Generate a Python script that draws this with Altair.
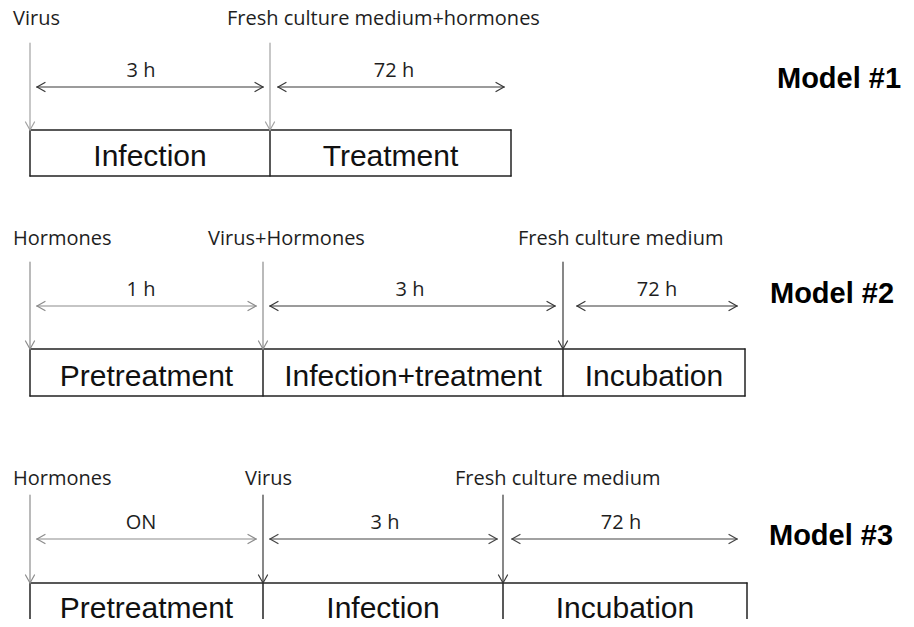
import altair as alt
import pandas as pd

# ---------------- data ----------------
model_names = ["Model #1", "Model #2", "Model #3"]
event_labels = [
    ["Virus", "Fresh culture medium+hormones"],
    ["Hormones", "Virus+Hormones", "Fresh culture medium"],
    ["Hormones", "Virus", "Fresh culture medium"],
]
durations = [
    ["3 h", "72 h"],
    ["1 h", "3 h", "72 h"],
    ["ON", "3 h", "72 h"],
]
phases = [
    ["Infection", "Treatment"],
    ["Pretreatment", "Infection+treatment", "Incubation"],
    ["Pretreatment", "Infection", "Incubation"],
]
# phase boundaries along each timeline (diagram units)
boundaries = [
    [30, 270, 511],
    [30, 263, 563, 745],
    [30, 263, 503, 747],
]
# duration-arrow extents along each timeline
span_start = [[37, 278], [37, 270, 577], [37, 270, 512]]
span_end = [[263, 504], [256, 555, 737], [256, 497, 737]]
# label anchors along each timeline
event_label_x = [[13, 227], [13, 208, 518], [13, 245, 455]]
duration_label_x = [[141, 394], [141, 410, 657], [141, 385, 621]]
model_label_x = [777, 770, 769]

# ---------------- layout (rows) ----------------
layout = dict(
    event_base=[25, 245, 485],
    arrow_top=[43, 262, 495],
    dur_base=[77, 296, 529],
    harrow_y=[87, 306, 539],
    box_top=[130, 349, 583],
    box_bottom=[176, 396, 650],
    box_base=[166, 386, 618],
    model_base=[88, 303, 545],
)
LIGHT = "#a2a2a2"
MID = "#8c8c8c"
DARK = "#383838"
style = dict(
    vcol=[[LIGHT, LIGHT], [MID, MID, DARK], [MID, DARK, DARK]],
    hcol=[[DARK, DARK], [MID, DARK, DARK], [MID, "#454545", "#454545"]],
    box="#222222",
)
HL, HW = 8, 4.5  # arrowhead length / half-width

rules = []


def seg(x, y, x2, y2, c, w=1.2):
    rules.append(dict(x=x, y=y, x2=x2, y2=y2, c=c, w=w))


texts = []
for m in range(3):
    L = {k: v[m] for k, v in layout.items()}
    b = boundaries[m]
    # box
    seg(b[0], L["box_top"], b[-1], L["box_top"], style["box"], 1.5)
    seg(b[0], L["box_bottom"], b[-1], L["box_bottom"], style["box"], 1.5)
    for xb in b:
        seg(xb, L["box_top"], xb, L["box_bottom"], style["box"], 1.5)
    # vertical event arrows
    for i, xb in enumerate(b[:-1]):
        c = style["vcol"][m][i]
        seg(xb, L["arrow_top"], xb, L["box_top"], c)
        seg(xb, L["box_top"], xb - HW, L["box_top"] - HL, c)
        seg(xb, L["box_top"], xb + HW, L["box_top"] - HL, c)
    # horizontal duration arrows
    for i in range(len(span_start[m])):
        c = style["hcol"][m][i]
        xa, xe, y = span_start[m][i], span_end[m][i], L["harrow_y"]
        seg(xa, y, xe, y, c)
        seg(xa, y, xa + HL, y - HW, c)
        seg(xa, y, xa + HL, y + HW, c)
        seg(xe, y, xe - HL, y - HW, c)
        seg(xe, y, xe - HL, y + HW, c)
    # texts
    for i, t in enumerate(event_labels[m]):
        texts.append(dict(x=event_label_x[m][i], y=L["event_base"], t=t, kind="event"))
    for i, t in enumerate(durations[m]):
        texts.append(dict(x=duration_label_x[m][i], y=L["dur_base"], t=t, kind="dur"))
    for i, t in enumerate(phases[m]):
        texts.append(dict(x=(b[i] + b[i + 1]) / 2, y=L["box_base"], t=t, kind="phase"))
    texts.append(dict(x=model_label_x[m], y=L["model_base"], t=model_names[m], kind="model"))

rdf = pd.DataFrame(rules)
tdf = pd.DataFrame(texts)

W, H = 898, 611
xs = alt.Scale(domain=[8, 8 + W], nice=False, zero=False)
ys = alt.Scale(domain=[8, 8 + H], nice=False, zero=False, reverse=True)

rule_layer = alt.Chart(rdf).mark_rule(strokeCap="round").encode(
    x=alt.X("x:Q", scale=xs, axis=None),
    y=alt.Y("y:Q", scale=ys, axis=None),
    x2="x2:Q",
    y2="y2:Q",
    color=alt.Color("c:N", scale=None),
    strokeWidth=alt.StrokeWidth("w:Q", scale=None),
)


def text_layer(kind, **kw):
    return alt.Chart(tdf[tdf.kind == kind]).mark_text(baseline="alphabetic", **kw).encode(
        x=alt.X("x:Q", scale=xs, axis=None),
        y=alt.Y("y:Q", scale=ys, axis=None),
        text="t:N",
    )


layers = [
    rule_layer,
    text_layer("event", align="left", font="Open Sans", fontSize=20, color="#1e1e1e"),
    text_layer("dur", align="center", font="Open Sans", fontSize=20, color="#1e1e1e"),
    text_layer("phase", align="center", font="Liberation Sans", fontSize=30, color="#111111"),
    text_layer("model", align="left", font="Liberation Sans", fontSize=29, fontWeight="bold", color="#000000"),
]

chart = (
    alt.layer(*layers)
    .properties(width=W, height=H, padding=0, autosize=alt.AutoSizeParams(type="none"), background="white")
    .configure_view(strokeWidth=0)
)

chart.save("out.html", embed_options={"renderer": "svg", "actions": False})
